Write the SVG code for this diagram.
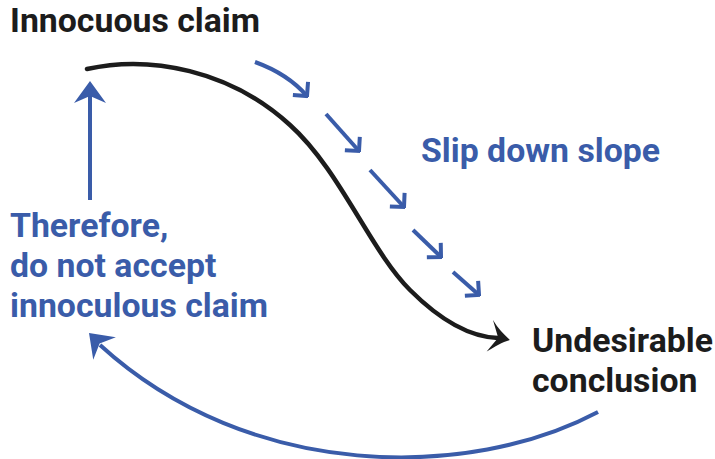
<svg xmlns="http://www.w3.org/2000/svg" xmlns:xlink="http://www.w3.org/1999/xlink" width="715" height="459" viewBox="0 0 715 459">
  <style>
    .lbl { font-family: Roboto, "Liberation Sans", Arial, sans-serif; font-weight: 700; font-size: 33.8px; }
    .dark { fill: #1c1c1c; }
    .blue { fill: #3a5ca9; }
    .slope { fill: none; stroke: #1c1c1c; stroke-width: 4.5; stroke-linecap: round; }
    .bline { fill: none; stroke: #3a5ca9; stroke-width: 4; }
    .dash { fill: none; stroke: #3a5ca9; stroke-width: 4; stroke-linecap: butt; marker-end: url(#chev); }
  </style>
  <defs>
    <!-- open chevron head for the dashed slip steps -->
    <marker id="chev" viewBox="-12 -12 14 24" markerWidth="14" markerHeight="24" refX="0" refY="0" orient="auto" markerUnits="userSpaceOnUse">
      <path d="M-10,-10 L0,0 L-10,10" fill="none" stroke="#3a5ca9" stroke-width="4" stroke-linejoin="miter"/>
    </marker>
    <!-- filled notched head, pointing along +x, tip at origin -->
    <path id="head" d="M0,0 L-22,-16 L-15,0 L-22,16 Z"/>
    <!-- curved-barb head for the slope line -->
    <path id="bhead" d="M0,0 C-7,-5 -13,-10 -19,-18 L-12,-1 L-22,14 C-14,8 -8,3 0,0 Z"/>
  </defs>

  <g id="connectors">
    <!-- the slope itself -->
    <g id="slope">
      <path class="slope" d="M87,69 C150,55 230,70 290,125 C340,170 370,250 410,290 C440,320 470,337 498,338"/>
      <use xlink:href="#bhead" class="dark" transform="translate(510,340) rotate(6)"/>
    </g>
    <!-- dashed slip steps -->
    <g id="slip">
      <path class="dash" d="M255,62 Q288,74 307,96"/>
      <path class="dash" d="M326,114 L359,151"/>
      <path class="dash" d="M370,170 L404,207"/>
      <path class="dash" d="M413,230 L441,257"/>
      <path class="dash" d="M453,272 L479,295"/>
    </g>
    <!-- return arc back to the claim -->
    <g id="return">
      <path class="bline" d="M598,412 C470,480 250,482 100,345"/>
      <use xlink:href="#head" class="blue" transform="translate(89,333) rotate(-135)"/>
    </g>
    <!-- rejection arrow -->
    <g id="reject">
      <line class="bline" x1="90" y1="200" x2="90" y2="96"/>
      <use xlink:href="#head" class="blue" transform="translate(90,81) rotate(-90)"/>
    </g>
  </g>

  <g id="claim">
    <text class="lbl dark" x="10" y="32">Innocuous claim</text>
  </g>
  <g id="slip-label">
    <text class="lbl blue" x="421" y="162">Slip down slope</text>
  </g>
  <g id="conclusion">
    <text class="lbl dark" x="532" y="352">Undesirable</text>
    <text class="lbl dark" x="532" y="392">conclusion</text>
  </g>
  <g id="therefore">
    <text class="lbl blue" x="10" y="237">Therefore,</text>
    <text class="lbl blue" x="10" y="277">do not accept</text>
    <text class="lbl blue" x="10" y="317">innoculous claim</text>
  </g>
</svg>
